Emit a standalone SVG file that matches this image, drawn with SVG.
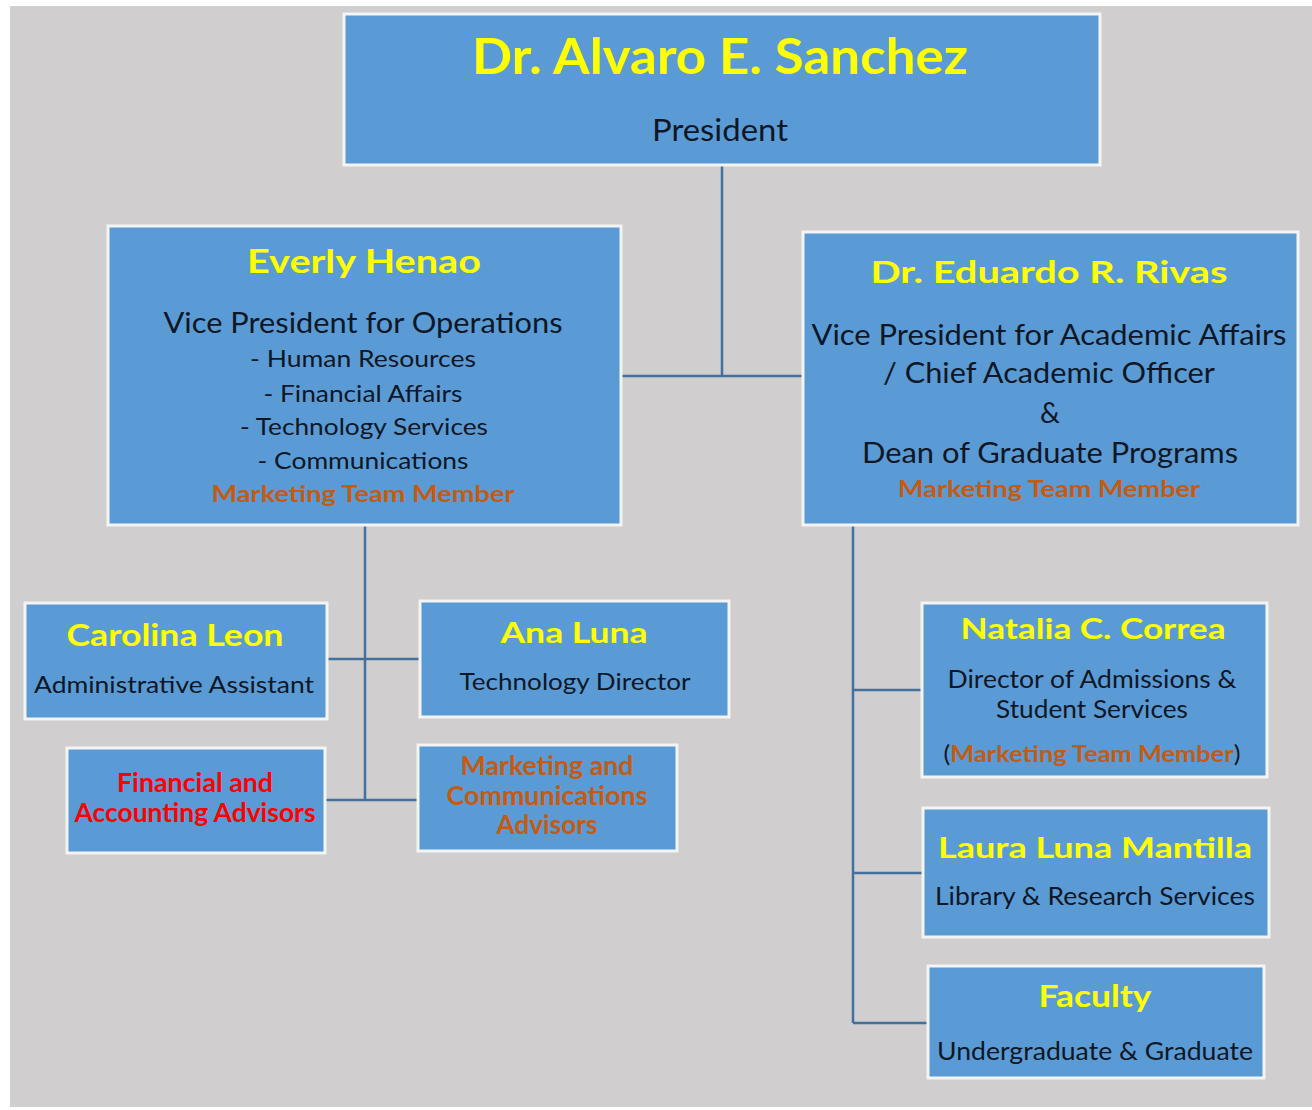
<svg xmlns="http://www.w3.org/2000/svg" width="1312" height="1110" viewBox="0 0 1312 1110">
<style>
.box{fill:#5B9BD5;stroke:#F4F4F4;stroke-width:3}
.conn{stroke:#41719C;stroke-width:2.5;fill:none}
text{font-family:Lato,"Open Sans","Liberation Sans",sans-serif;text-anchor:middle}
.nm{fill:#FFFF00;font-weight:bold}
.t{fill:#0E1726}
.mk{fill:#C55A11;font-weight:bold}
.rd{fill:#FF0000;font-weight:bold}
</style>
<rect x="0" y="0" width="1312" height="1110" fill="#FFFFFF"/>
<rect x="10" y="6" width="1302" height="1101" fill="#D0CECF"/>
<g id="connectors">
<path class="conn" d="M722 165 V376 M621 376 H803"/>
<path class="conn" d="M365 526 V800 M327 659 H420 M325 800 H418"/>
<path class="conn" d="M853 526 V1023 M853 690 H922 M853 873 H923 M853 1023 H928"/>
</g>
<g id="president">
<rect class="box" x="344" y="14" width="756" height="151"/>
<text class="nm" x="720" y="74" font-size="50" textLength="496" lengthAdjust="spacingAndGlyphs">Dr. Alvaro E. Sanchez</text>
<text class="t" x="720" y="141" font-size="30" textLength="136" lengthAdjust="spacingAndGlyphs">President</text>
</g>
<g id="everly">
<rect class="box" x="108" y="226" width="513" height="299"/>
<text class="nm" x="364" y="273" font-size="33" textLength="234" lengthAdjust="spacingAndGlyphs">Everly Henao</text>
<text class="t" x="363" y="333" font-size="28" textLength="399" lengthAdjust="spacingAndGlyphs">Vice President for Operations</text>
<text class="t" x="363" y="367" font-size="23" textLength="226" lengthAdjust="spacingAndGlyphs">- Human Resources</text>
<text class="t" x="363" y="402" font-size="23" textLength="199" lengthAdjust="spacingAndGlyphs">- Financial Affairs</text>
<text class="t" x="364" y="435" font-size="23" textLength="248" lengthAdjust="spacingAndGlyphs">- Technology Services</text>
<text class="t" x="363" y="469" font-size="23" textLength="211" lengthAdjust="spacingAndGlyphs">- Communications</text>
<text class="mk" x="363" y="502" font-size="23" textLength="303" lengthAdjust="spacingAndGlyphs">Marketing Team Member</text>
</g>
<g id="eduardo">
<rect class="box" x="803" y="232" width="495" height="293"/>
<text class="nm" x="1049" y="283" font-size="31" textLength="357" lengthAdjust="spacingAndGlyphs">Dr. Eduardo R. Rivas</text>
<text class="t" x="1049" y="345" font-size="28" textLength="475" lengthAdjust="spacingAndGlyphs">Vice President for Academic Affairs</text>
<text class="t" x="1049" y="383" font-size="28" textLength="332" lengthAdjust="spacingAndGlyphs">/ Chief Academic Officer</text>
<text class="t" x="1050" y="423" font-size="28">&amp;</text>
<text class="t" x="1050" y="463" font-size="28" textLength="376" lengthAdjust="spacingAndGlyphs">Dean of Graduate Programs</text>
<text class="mk" x="1049" y="497" font-size="23" textLength="302" lengthAdjust="spacingAndGlyphs">Marketing Team Member</text>
</g>
<g id="carolina">
<rect class="box" x="25" y="603" width="302" height="116"/>
<text class="nm" x="175" y="646" font-size="30" textLength="217" lengthAdjust="spacingAndGlyphs">Carolina Leon</text>
<text class="t" x="174" y="693" font-size="24" textLength="280" lengthAdjust="spacingAndGlyphs">Administrative Assistant</text>
</g>
<g id="ana">
<rect class="box" x="420" y="601" width="309" height="116"/>
<text class="nm" x="574" y="643" font-size="29" textLength="147" lengthAdjust="spacingAndGlyphs">Ana Luna</text>
<text class="t" x="575" y="690" font-size="24" textLength="231" lengthAdjust="spacingAndGlyphs">Technology Director</text>
</g>
<g id="financial">
<rect class="box" x="67" y="748" width="258" height="105"/>
<text class="rd" x="195" y="792" font-size="26" textLength="156" lengthAdjust="spacingAndGlyphs">Financial and</text>
<text class="rd" x="195" y="822" font-size="26" textLength="241" lengthAdjust="spacingAndGlyphs">Accounting Advisors</text>
</g>
<g id="marketing">
<rect class="box" x="418" y="745" width="259" height="106"/>
<text class="mk" x="547" y="775" font-size="26" textLength="173" lengthAdjust="spacingAndGlyphs">Marketing and</text>
<text class="mk" x="547" y="805" font-size="26" textLength="201" lengthAdjust="spacingAndGlyphs">Communications</text>
<text class="mk" x="547" y="834" font-size="26" textLength="101" lengthAdjust="spacingAndGlyphs">Advisors</text>
</g>
<g id="natalia">
<rect class="box" x="922" y="603" width="345" height="174"/>
<text class="nm" x="1093" y="639" font-size="29" textLength="265" lengthAdjust="spacingAndGlyphs">Natalia C. Correa</text>
<text class="t" x="1092" y="688" font-size="25" textLength="289" lengthAdjust="spacingAndGlyphs">Director of Admissions &amp;</text>
<text class="t" x="1092" y="718" font-size="25" textLength="192" lengthAdjust="spacingAndGlyphs">Student Services</text>
<text class="t" x="1092" y="762" font-size="23" textLength="297" lengthAdjust="spacingAndGlyphs">(<tspan class="mk">Marketing Team Member</tspan>)</text>
</g>
<g id="laura">
<rect class="box" x="923" y="808" width="346" height="129"/>
<text class="nm" x="1095" y="858" font-size="29" textLength="314" lengthAdjust="spacingAndGlyphs">Laura Luna Mantilla</text>
<text class="t" x="1095" y="905" font-size="25" textLength="320" lengthAdjust="spacingAndGlyphs">Library &amp; Research Services</text>
</g>
<g id="faculty">
<rect class="box" x="928" y="966" width="336" height="112"/>
<text class="nm" x="1095" y="1007" font-size="30" textLength="113" lengthAdjust="spacingAndGlyphs">Faculty</text>
<text class="t" x="1095" y="1060" font-size="25" textLength="316" lengthAdjust="spacingAndGlyphs">Undergraduate &amp; Graduate</text>
</g>
</svg>
